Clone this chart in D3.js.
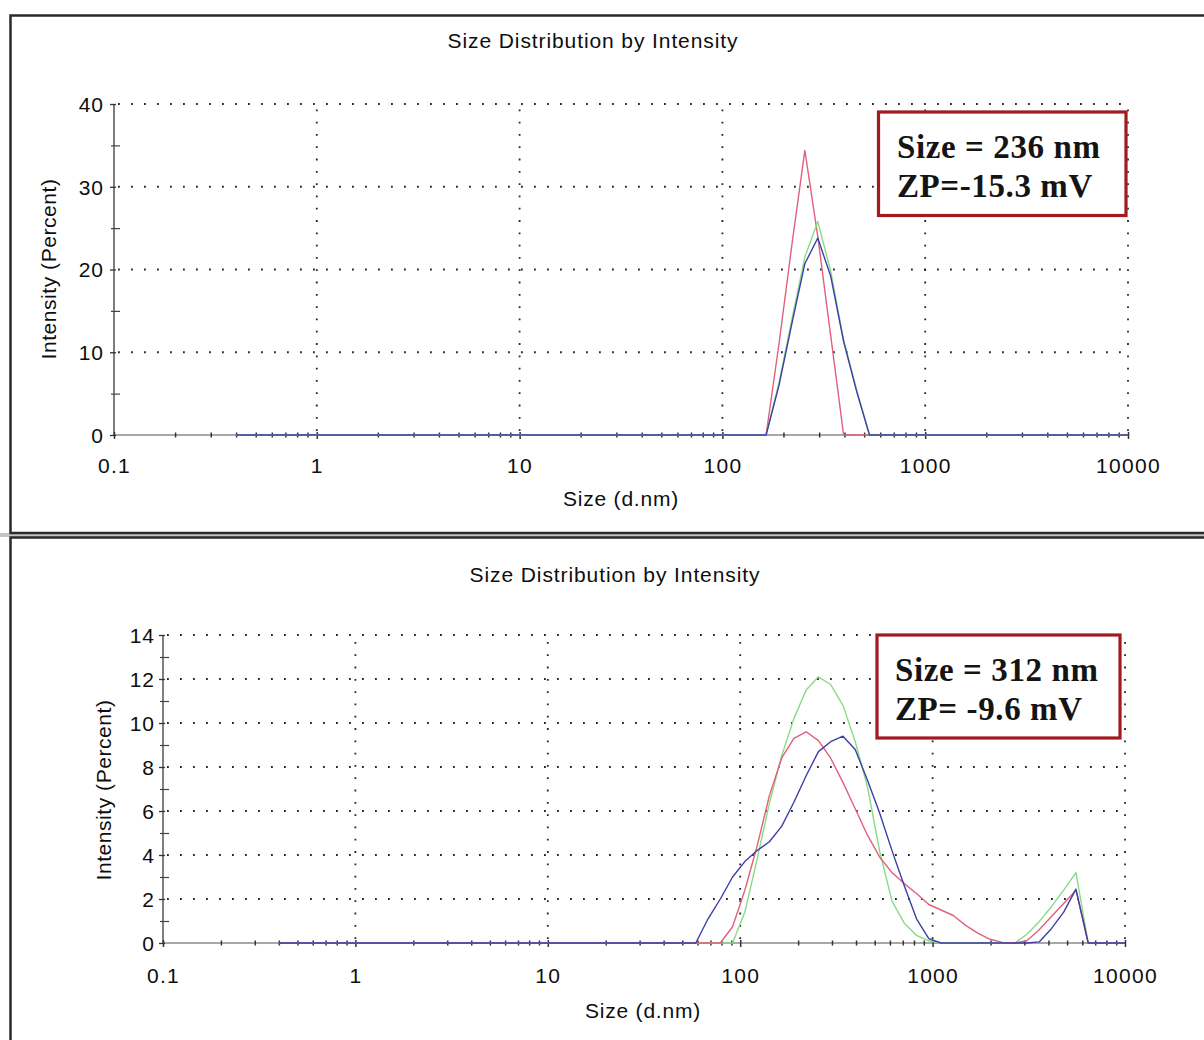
<!DOCTYPE html>
<html>
<head>
<meta charset="utf-8">
<script src="https://cdn.jsdelivr.net/npm/d3@7"></script>
<style>
  html, body { margin: 0; padding: 0; background: #fff; }
  svg { display: block; }
  .lbl { font-family: "Liberation Sans", Arial, sans-serif; fill: #0e0e0e; }
  .note { font-family: "Liberation Serif", "Times New Roman", serif; font-weight: bold; fill: #141414; }
</style>
</head>
<body>
<svg id="chart" width="1204" height="1040"></svg>
<script>
// Instrument size classes (d.nm), 70 log-spaced bins
const sizeBins = [
  0.4, 0.4632, 0.5365, 0.6213, 0.7195, 0.8332, 0.9649, 1.117, 1.294, 1.499,
  1.736, 2.01, 2.328, 2.696, 3.122, 3.615, 4.187, 4.849, 5.615, 6.503,
  7.531, 8.721, 10.1, 11.7, 13.54, 15.69, 18.17, 21.04, 24.36, 28.21,
  32.67, 37.84, 43.82, 50.75, 58.77, 68.06, 78.82, 91.28, 105.7, 122.4,
  141.8, 164.2, 190.1, 220.2, 255, 295.3, 342, 396.1, 458.7, 531.2,
  615.1, 712.4, 825, 955.4, 1106, 1281, 1484, 1718, 1990, 2305,
  2669, 3091, 3580, 4145, 4801, 5560, 6439, 7456, 8635, 10000
];

const xTickValues = [0.1, 1, 10, 100, 1000, 10000];
const xTickLabels = ["0.1", "1", "10", "100", "1000", "10000"];

// Upper sample: intensity (%) per size bin, three runs
const topYTicks = [0, 10, 20, 30, 40];
const topYMinor = [5, 15, 25, 35];
const topRed = [
  0, 0, 0, 0, 0, 0, 0, 0, 0, 0,
  0, 0, 0, 0, 0, 0, 0, 0, 0, 0,
  0, 0, 0, 0, 0, 0, 0, 0, 0, 0,
  0, 0, 0, 0, 0, 0, 0, 0, 0, 0,
  0, 0, 11, 23, 34.4, 24, 12, 0, 0, 0,
  0, 0, 0, 0, 0, 0, 0, 0, 0, 0,
  0, 0, 0, 0, 0, 0, 0, 0, 0, 0
];
const topGreen = [
  0, 0, 0, 0, 0, 0, 0, 0, 0, 0,
  0, 0, 0, 0, 0, 0, 0, 0, 0, 0,
  0, 0, 0, 0, 0, 0, 0, 0, 0, 0,
  0, 0, 0, 0, 0, 0, 0, 0, 0, 0,
  0, 0, 6.3, 14, 21.5, 25.8, 19.8, 11.5, 5.5, 0,
  0, 0, 0, 0, 0, 0, 0, 0, 0, 0,
  0, 0, 0, 0, 0, 0, 0, 0, 0, 0
];
const topBlue = [
  0, 0, 0, 0, 0, 0, 0, 0, 0, 0,
  0, 0, 0, 0, 0, 0, 0, 0, 0, 0,
  0, 0, 0, 0, 0, 0, 0, 0, 0, 0,
  0, 0, 0, 0, 0, 0, 0, 0, 0, 0,
  0, 0, 6, 13.5, 20.7, 23.8, 19.2, 11.3, 5.3, 0,
  0, 0, 0, 0, 0, 0, 0, 0, 0, 0,
  0, 0, 0, 0, 0, 0, 0, 0, 0, 0
];
const topNote = ["Size = 236 nm", "ZP=-15.3 mV"];

// Lower sample
const bottomYTicks = [0, 2, 4, 6, 8, 10, 12, 14];
const bottomYMinor = [1, 3, 5, 7, 9, 11, 13];
const bottomRed = [
  0, 0, 0, 0, 0, 0, 0, 0, 0, 0,
  0, 0, 0, 0, 0, 0, 0, 0, 0, 0,
  0, 0, 0, 0, 0, 0, 0, 0, 0, 0,
  0, 0, 0, 0, 0, 0, 0, 0.74, 2.4, 4.4,
  6.7, 8.4, 9.3, 9.6, 9.2, 8.4, 7.3, 6.1, 4.9, 3.9,
  3.2, 2.7, 2.25, 1.75, 1.5, 1.25, 0.8, 0.45, 0.17, 0.03,
  0, 0.1, 0.6, 1.2, 1.8, 2.4, 0, 0, 0, 0
];
const bottomGreen = [
  0, 0, 0, 0, 0, 0, 0, 0, 0, 0,
  0, 0, 0, 0, 0, 0, 0, 0, 0, 0,
  0, 0, 0, 0, 0, 0, 0, 0, 0, 0,
  0, 0, 0, 0, 0, 0, 0, 0, 1.4, 3.8,
  6.35, 8.5, 10.2, 11.5, 12.1, 11.75, 10.8, 9.15, 7.1, 4.15,
  1.9, 0.9, 0.35, 0.1, 0, 0, 0, 0, 0, 0,
  0, 0.4, 0.97, 1.65, 2.4, 3.2, 0, 0, 0, 0
];
const bottomBlue = [
  0, 0, 0, 0, 0, 0, 0, 0, 0, 0,
  0, 0, 0, 0, 0, 0, 0, 0, 0, 0,
  0, 0, 0, 0, 0, 0, 0, 0, 0, 0,
  0, 0, 0, 0, 0, 1.1, 2.0, 3.0, 3.7, 4.2,
  4.6, 5.3, 6.4, 7.6, 8.7, 9.15, 9.4, 8.8, 7.4, 5.9,
  4.2, 2.6, 1.1, 0.2, 0, 0, 0, 0, 0, 0,
  0, 0, 0.05, 0.65, 1.4, 2.45, 0, 0, 0, 0
];
const bottomNote = ["Size = 312 nm", "ZP= -9.6 mV"];

const chartTitle = "Size Distribution by Intensity";
const xAxisTitle = "Size (d.nm)";
const yAxisTitle = "Intensity (Percent)";

const colors = { red: "#e2607c", green: "#86dc86", blue: "#3d3fa6" };

const svg = d3.select("#chart");

// Panel frames
svg.append("rect").attr("x", 0).attr("y", 533).attr("width", 1204).attr("height", 4).attr("fill", "#c4c4c4");
svg.append("rect").attr("x", 10.5).attr("y", 15.5).attr("width", 1210).attr("height", 517.5)
  .attr("fill", "none").attr("stroke", "#2a2a2a").attr("stroke-width", 2.5);
svg.append("rect").attr("x", 10.5).attr("y", 537.5).attr("width", 1210).attr("height", 540)
  .attr("fill", "none").attr("stroke", "#2a2a2a").attr("stroke-width", 2.5);

function drawPanel(cfg) {
  const g = svg.append("g");
  const x = d3.scaleLog().domain([0.1, 10000]).range([cfg.x0, cfg.x1]);
  const y = d3.scaleLinear().domain([0, cfg.yMax]).range([cfg.yBot, cfg.yTop]);

  // dotted grid
  g.append("g").selectAll("line").data(cfg.yMajor.filter(v => v > 0)).join("line")
    .attr("x1", cfg.x0 + 4).attr("x2", cfg.x1).attr("y1", d => y(d)).attr("y2", d => y(d))
    .attr("stroke", "#262626").attr("stroke-width", 1.8).attr("stroke-dasharray", "1.8,11.2");
  g.append("g").selectAll("line").data(xTickValues.filter(v => v > 0.1)).join("line")
    .attr("x1", d => x(d)).attr("x2", d => x(d)).attr("y1", cfg.yBot - 4).attr("y2", cfg.yTop)
    .attr("stroke", "#262626").attr("stroke-width", 1.8).attr("stroke-dasharray", "1.8,10.5");

  // axis lines
  g.append("line").attr("x1", cfg.x0).attr("x2", cfg.x1).attr("y1", cfg.yBot).attr("y2", cfg.yBot)
    .attr("stroke", "#a8a8a8").attr("stroke-width", 2.2);
  g.append("line").attr("x1", cfg.x0).attr("x2", cfg.x0).attr("y1", cfg.yBot).attr("y2", cfg.yTop)
    .attr("stroke", "#3a3a3a").attr("stroke-width", 1.3);

  // y axis ticks and labels
  const yAxis = g.append("g").attr("transform", `translate(${cfg.x0},0)`)
    .call(d3.axisLeft(y).tickValues(cfg.yMajor).tickFormat(d3.format("d")).tickSize(4));
  yAxis.select(".domain").remove();
  yAxis.selectAll(".tick line").attr("x1", -4).attr("x2", 2).attr("stroke", "#333").attr("stroke-width", 1.3);
  yAxis.selectAll(".tick text").attr("class", "lbl").attr("x", -cfg.yLabelGap).attr("dy", "0.35em")
    .style("font-size", "21px").style("letter-spacing", "1px").attr("font-family", null);

  const yMinorAxis = g.append("g").attr("transform", `translate(${cfg.x0},0)`)
    .call(d3.axisLeft(y).tickValues(cfg.yMinor).tickFormat("").tickSize(3));
  yMinorAxis.select(".domain").remove();
  yMinorAxis.selectAll(".tick line").attr("x1", -3).attr("x2", 6).attr("stroke", "#444").attr("stroke-width", 1.2);

  // x axis ticks and labels
  const xAxis = g.append("g").attr("transform", `translate(0,${cfg.yBot})`)
    .call(d3.axisBottom(x).tickValues(xTickValues).tickFormat((d, i) => xTickLabels[i]).tickSize(4));
  xAxis.select(".domain").remove();
  xAxis.selectAll(".tick line").attr("y1", -3).attr("y2", 4).attr("stroke", "#333").attr("stroke-width", 1.5);
  xAxis.selectAll(".tick text").attr("class", "lbl").attr("y", cfg.xLabelBase).attr("dy", null)
    .style("font-size", "21px").style("letter-spacing", "1.3px").attr("font-family", null);

  const minorX = x.ticks().filter(v => !xTickValues.some(m => Math.abs(m - v) / m < 1e-6));
  const xMinorAxis = g.append("g").attr("transform", `translate(0,${cfg.yBot})`)
    .call(d3.axisBottom(x).tickValues(minorX).tickFormat("").tickSize(3));
  xMinorAxis.select(".domain").remove();
  xMinorAxis.selectAll(".tick line").attr("y1", -2.5).attr("y2", 2.5).attr("stroke", "#333").attr("stroke-width", 1.5);

  // distribution curves
  const line = d3.line().x((d, i) => x(sizeBins[i])).y(d => y(d));
  cfg.series.forEach(s => {
    g.append("path").datum(s.values).attr("d", line)
      .attr("fill", "none").attr("stroke", s.color).attr("stroke-width", 1.4)
      .attr("stroke-linejoin", "round");
  });

  // titles
  g.append("text").attr("class", "lbl").attr("x", cfg.titleX).attr("y", cfg.titleY)
    .attr("text-anchor", "middle").style("font-size", "21px").style("letter-spacing", "0.9px").text(chartTitle);
  g.append("text").attr("class", "lbl").attr("x", cfg.xTitleX).attr("y", cfg.xTitleY)
    .attr("text-anchor", "middle").style("font-size", "21px").style("letter-spacing", "0.8px").text(xAxisTitle);
  g.append("text").attr("class", "lbl")
    .attr("transform", `translate(${cfg.yTitleX},${cfg.yTitleY}) rotate(-90)`)
    .attr("text-anchor", "middle").style("font-size", "21px").style("letter-spacing", "0.55px").text(yAxisTitle);

  // result box
  const n = cfg.note;
  g.append("rect").attr("x", n.x).attr("y", n.y).attr("width", n.w).attr("height", n.h)
    .attr("fill", "#fff").attr("stroke", "#a11a20").attr("stroke-width", 3.2);
  n.lines.forEach((t, i) => {
    g.append("text").attr("class", "note").attr("x", n.tx).attr("y", n.ty + i * n.dy)
      .style("font-size", "33px").style("letter-spacing", "0.6px").text(t);
  });
}

drawPanel({
  x0: 114, x1: 1128, yTop: 104, yBot: 435, yMax: 40,
  yMajor: topYTicks, yMinor: topYMinor, yLabelGap: 10, xLabelBase: 37.5,
  series: [
    { values: topRed, color: colors.red },
    { values: topGreen, color: colors.green },
    { values: topBlue, color: colors.blue }
  ],
  titleX: 593, titleY: 48, xTitleX: 621, xTitleY: 506, yTitleX: 56, yTitleY: 269,
  note: { x: 878.5, y: 112, w: 247.5, h: 103.5, lines: topNote, tx: 897, ty: 157.5, dy: 39.5 }
});

drawPanel({
  x0: 163, x1: 1125, yTop: 635, yBot: 943, yMax: 14,
  yMajor: bottomYTicks, yMinor: bottomYMinor, yLabelGap: 8, xLabelBase: 39.5,
  series: [
    { values: bottomGreen, color: colors.green },
    { values: bottomRed, color: colors.red },
    { values: bottomBlue, color: colors.blue }
  ],
  titleX: 615, titleY: 582, xTitleX: 643, xTitleY: 1018, yTitleX: 111, yTitleY: 790,
  note: { x: 877, y: 635, w: 243, h: 103, lines: bottomNote, tx: 895, ty: 680.5, dy: 39.5 }
});
</script>
</body>
</html>
